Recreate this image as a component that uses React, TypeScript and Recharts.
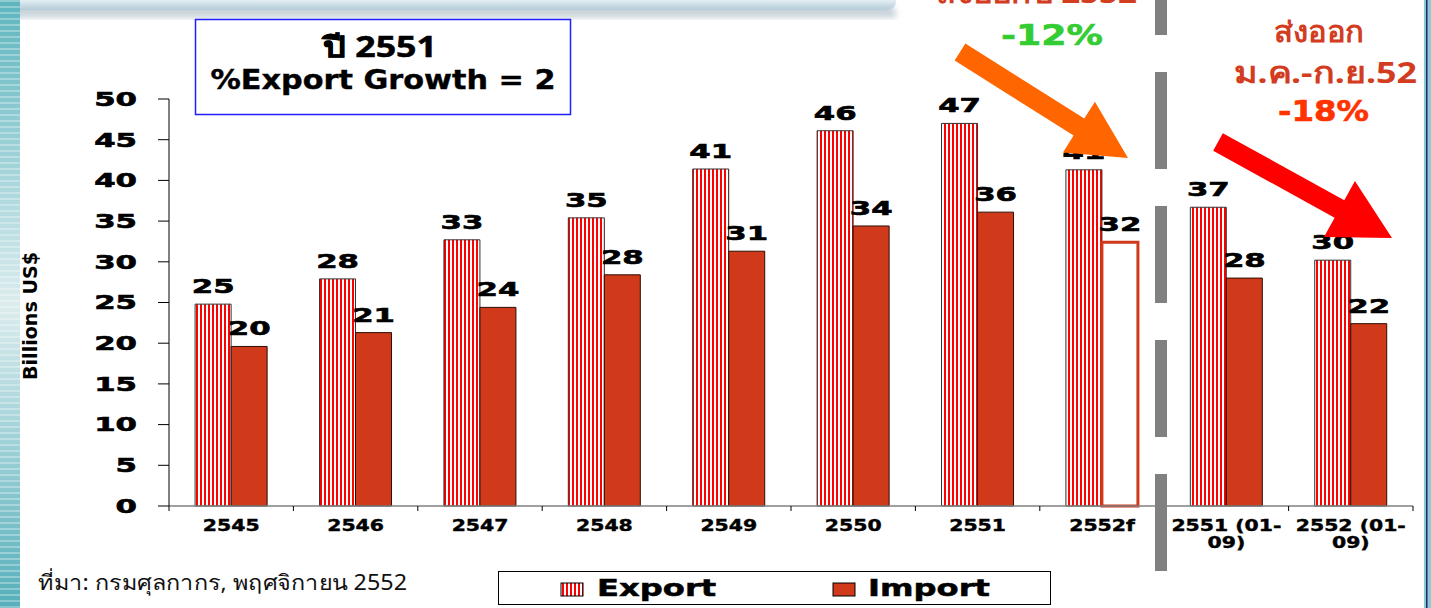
import React from "react";
import { BarChart, Bar, XAxis, YAxis, Cell, LabelList, Legend } from "recharts";

// values (billions US$)
const categories = [
  "2545",
  "2546",
  "2547",
  "2548",
  "2549",
  "2550",
  "2551",
  "2552f",
  "2551 (01-09)",
  "2552 (01-09)",
];
const exportValues = [24.8, 27.9, 32.7, 35.4, 41.4, 46.1, 47.0, 41.3, 36.7, 30.2];
const importValues = [19.6, 21.3, 24.4, 28.4, 31.3, 34.4, 36.1, 32.4, 28.0, 22.4];
const yTicks = [0, 5, 10, 15, 20, 25, 30, 35, 40, 45, 50];
const tickLines: Record<string, string[]> = {
  "2551 (01-09)": ["2551 (01-", "09)"],
  "2552 (01-09)": ["2552 (01-", "09)"],
};
const forecastCategory = "2552f";
const seriesNames = ["Export", "Import"];

const data = categories.map((name, i) => ({
  name,
  exp: exportValues[i],
  imp: importValues[i],
}));

const FONT = "'DejaVu Sans', Verdana, sans-serif";
const THAI_FONT = "Tahoma, 'Noto Sans', 'DejaVu Sans', sans-serif";
const IMPORT_RED = "#d0391a";
const BAR_EDGE = "#2b0d05";

function ValueLabel(props: any) {
  const { x, y, width, value } = props;
  const cx = Number(x) + Number(width) / 2;
  return (
    <text
      transform={`translate(${cx},${Number(y) - 11}) scale(1.62,1)`}
      textAnchor="middle"
      fontFamily={FONT}
      fontWeight="bold"
      fontSize={19}
      fill="#000"
      stroke="#000"
      strokeWidth={0.6}
    >
      {Math.round(Number(value))}
    </text>
  );
}

function YTick(props: any) {
  const { x, y, payload } = props;
  return (
    <text
      transform={`translate(${x},${y}) scale(1.62,1)`}
      textAnchor="end"
      dy="0.36em"
      fontFamily={FONT}
      fontWeight="bold"
      fontSize={19}
      fill="#000"
      stroke="#000"
      strokeWidth={0.6}
    >
      {payload.value}
    </text>
  );
}

function XTick(props: any) {
  const { x, y, payload, index } = props;
  const half = payload.offset || 62.2;
  const lines = tickLines[payload.value] ?? [payload.value];
  return (
    <g>
      <line x1={x - half} x2={x - half} y1={y} y2={y + 5} stroke="#000" />
      {index === categories.length - 1 && (
        <line x1={x + half} x2={x + half} y1={y} y2={y + 5} stroke="#000" />
      )}
      {lines.map((l: string, i: number) => (
        <text
          key={i}
          transform={`translate(${x},${y + 25 + i * 17}) scale(1.36,1)`}
          textAnchor="middle"
          fontFamily={FONT}
          fontWeight="bold"
          fontSize={15}
          fill="#000"
          stroke="#000"
          strokeWidth={0.4}
        >
          {l}
        </text>
      ))}
    </g>
  );
}

function LegendBox() {
  return (
    <svg width={554} height={35} style={{ display: "block" }}>
      <rect x={0.5} y={0.5} width={552} height={33} fill="#fff" stroke="#000" />
      <rect x={63} y={12} width={22} height={13} fill="url(#exportStripes)" stroke="#000" />
      <text
        transform="translate(99,25) scale(1.4,1)"
        fontFamily={FONT}
        fontWeight="bold"
        fontSize={23}
        fill="#000"
        stroke="#000"
        strokeWidth={0.5}
      >
        {seriesNames[0]}
      </text>
      <rect x={335} y={12} width={22} height={13} fill={IMPORT_RED} stroke="#000" />
      <text
        transform="translate(370,25) scale(1.4,1)"
        fontFamily={FONT}
        fontWeight="bold"
        fontSize={23}
        fill="#000"
        stroke="#000"
        strokeWidth={0.5}
      >
        {seriesNames[1]}
      </text>
    </svg>
  );
}

function arrowPoints(x1: number, y1: number, x2: number, y2: number, shaft: number, headLen: number, headW: number) {
  const dx = x2 - x1;
  const dy = y2 - y1;
  const len = Math.hypot(dx, dy);
  const ux = dx / len;
  const uy = dy / len;
  const px = -uy;
  const py = ux;
  const bx = x2 - ux * headLen;
  const by = y2 - uy * headLen;
  const pts = [
    [x1 + (px * shaft) / 2, y1 + (py * shaft) / 2],
    [bx + (px * shaft) / 2, by + (py * shaft) / 2],
    [bx + (px * headW) / 2, by + (py * headW) / 2],
    [x2, y2],
    [bx - (px * headW) / 2, by - (py * headW) / 2],
    [bx - (px * shaft) / 2, by - (py * shaft) / 2],
    [x1 - (px * shaft) / 2, y1 - (py * shaft) / 2],
  ];
  return pts.map((p) => p.join(",")).join(" ");
}

const abs: React.CSSProperties = { position: "absolute", left: 0, top: 0 };

export default function App() {
  return (
    <div style={{ ...abs, width: 1431, height: 608, background: "#fff", overflow: "hidden" }}>
      <svg width={0} height={0} style={{ position: "absolute" }}>
        <defs>
          <pattern id="exportStripes" width={4} height={4} patternUnits="userSpaceOnUse">
            <rect width={4} height={4} fill="#fff" />
            <rect width={2} height={4} fill="#ff0000" />
          </pattern>
        </defs>
      </svg>

      {/* slide background */}
      <svg width={1431} height={608} style={abs}>
        <defs>
          <linearGradient id="stripGrad" x1={0} y1={0} x2={0} y2={1}>
            <stop offset={0} stopColor="#5db5be" />
            <stop offset={0.3} stopColor="#a9d6dc" />
            <stop offset={0.5} stopColor="#dceced" />
            <stop offset={0.7} stopColor="#a6d4da" />
            <stop offset={1} stopColor="#55afba" />
          </linearGradient>
          <pattern id="stripLines" width={20} height={6} patternUnits="userSpaceOnUse">
            <rect width={20} height={2} fill="#ffffff" opacity={0.3} />
          </pattern>
          <linearGradient id="bandGrad" x1={0} y1={0} x2={0} y2={1}>
            <stop offset={0} stopColor="#e4eef3" />
            <stop offset={1} stopColor="#b3cbd8" />
          </linearGradient>
          <filter id="soft">
            <feGaussianBlur stdDeviation={3} />
          </filter>
        </defs>
        <path d="M0 4 H884 Q896 4 896 16 V18 H0 Z" fill="#9fb1bd" opacity={0.55} filter="url(#soft)" />
        <path d="M0 0 H896 V1 Q896 10 884 10 H0 Z" fill="url(#bandGrad)" />
        <rect x={0} y={0} width={20} height={608} fill="url(#stripGrad)" />
        <rect x={0} y={0} width={20} height={608} fill="url(#stripLines)" />
        <rect x={1424} y={0} width={7} height={608} fill="#8ccbd3" />
        <rect x={1426} y={0} width={1.5} height={608} fill="#1c2b6b" />
      </svg>

      <div style={abs}>
        <BarChart
          width={1431}
          height={608}
          data={data}
          margin={{ top: 99, right: 18, bottom: 42, left: 0 }}
          barCategoryGap="21%"
          barGap={0}
        >
          <XAxis
            dataKey="name"
            height={60}
            interval={0}
            tickSize={0}
            tickMargin={0}
            tickLine={false}
            axisLine={{ stroke: "#808080", strokeWidth: 1.5 }}
            tick={<XTick />}
          />
          <YAxis
            width={169}
            domain={[0, 50]}
            ticks={yTicks}
            interval={0}
            tickSize={11}
            tickMargin={21}
            tickLine={{ stroke: "#000" }}
            axisLine={{ stroke: "#000" }}
            tick={<YTick />}
          />
          <Legend
            layout="horizontal"
            verticalAlign="middle"
            align="center"
            wrapperStyle={{ left: 498, top: 571, width: 554, height: 35 }}
            content={<LegendBox />}
          />
          <Bar
            dataKey="exp"
            name={seriesNames[0]}
            fill="url(#exportStripes)"
            stroke="#333"
            strokeWidth={1}
            isAnimationActive={false}
          >
            <LabelList dataKey="exp" content={<ValueLabel />} />
          </Bar>
          <Bar
            dataKey="imp"
            name={seriesNames[1]}
            fill={IMPORT_RED}
            stroke={BAR_EDGE}
            strokeWidth={1}
            isAnimationActive={false}
          >
            {data.map((d) => {
              const f = d.name === forecastCategory;
              return (
                <Cell
                  key={d.name}
                  fill={f ? "#fff" : IMPORT_RED}
                  stroke={f ? IMPORT_RED : BAR_EDGE}
                  strokeWidth={f ? 3 : 1}
                />
              );
            })}
            <LabelList dataKey="imp" content={<ValueLabel />} />
          </Bar>
        </BarChart>
      </div>

      {/* annotations */}
      <svg width={1431} height={608} style={{ ...abs, pointerEvents: "none" }}>
        <line x1={1161} x2={1161} y1={-62} y2={571} stroke="#808080" strokeWidth={12} strokeDasharray="97 37" />

        <rect x={195.5} y={19.5} width={375} height={95} fill="#fff" stroke="#1e1eff" strokeWidth={1.5} />
        <text
          x={380}
          y={57}
          textAnchor="middle"
          fontFamily={THAI_FONT}
          fontWeight="bold"
          fontSize={28}
          fill="#000"
          stroke="#000"
          strokeWidth={0.5}
          textLength={114}
          lengthAdjust="spacingAndGlyphs"
        >
          ปี 2551
        </text>
        <text
          x={383}
          y={89}
          textAnchor="middle"
          fontFamily={FONT}
          fontWeight="bold"
          fontSize={27}
          fill="#000"
          stroke="#000"
          strokeWidth={0.4}
          textLength={345}
          lengthAdjust="spacingAndGlyphs"
        >
          %Export Growth = 2
        </text>

        <text
          transform="translate(37,316) rotate(-90)"
          textAnchor="middle"
          fontFamily={FONT}
          fontWeight="bold"
          fontSize={20}
          fill="#000"
          textLength={128}
          lengthAdjust="spacingAndGlyphs"
        >
          Billions US$
        </text>

        <text x={38} y={590} fontFamily={THAI_FONT} fontSize={21} fill="#111" textLength={369} lengthAdjust="spacingAndGlyphs">
          ที่มา: กรมศุลกากร, พฤศจิกายน 2552
        </text>

        <text x={936} y={3} fontFamily={THAI_FONT} fontWeight="bold" fontSize={29} fill="#d33d1f" textLength={201} lengthAdjust="spacingAndGlyphs">
          ส่งออกปี 2552
        </text>
        <text x={1001} y={45} fontFamily={FONT} fontWeight="bold" fontSize={29} fill="#33cc33" stroke="#33cc33" strokeWidth={0.6} textLength={102} lengthAdjust="spacingAndGlyphs">
          -12%
        </text>
        <text x={1274} y={42} fontFamily={THAI_FONT} fontWeight="bold" fontSize={29} fill="#d33d1f" textLength={90} lengthAdjust="spacingAndGlyphs">
          ส่งออก
        </text>
        <text x={1234} y={83} fontFamily={THAI_FONT} fontWeight="bold" fontSize={29} fill="#d33d1f" textLength={183} lengthAdjust="spacingAndGlyphs">
          ม.ค.-ก.ย.52
        </text>
        <text x={1278} y={121} fontFamily={FONT} fontWeight="bold" fontSize={29} fill="#ff3300" stroke="#ff3300" strokeWidth={0.6} textLength={91} lengthAdjust="spacingAndGlyphs">
          -18%
        </text>

        <polygon points={arrowPoints(960, 52, 1128, 158, 20, 58, 60)} fill="#ff6600" />
        <polygon points={arrowPoints(1218, 142, 1392, 238, 20, 60, 64)} fill="#ff0000" />
      </svg>
    </div>
  );
}
